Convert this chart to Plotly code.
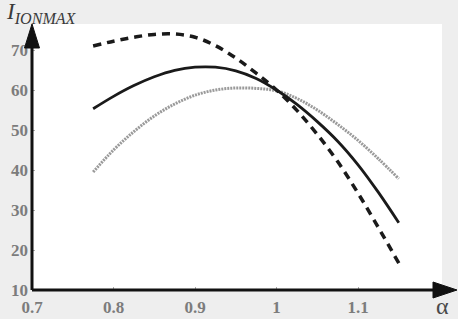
import plotly.graph_objects as go

alpha = [0.775, 0.8, 0.825, 0.85, 0.875, 0.9, 0.925, 0.95, 0.975, 1.0,
         1.025, 1.05, 1.075, 1.1, 1.125, 1.15]
dashed_vals = [71.0, 72.2, 73.2, 73.9, 74.0, 73.2, 71.1, 68.0, 64.2, 60.0,
               54.9, 48.9, 42.1, 34.2, 25.6, 16.7]
solid_vals = [55.3, 58.4, 61.1, 63.3, 64.9, 65.7, 65.7, 64.8, 62.9, 60.0,
              56.4, 52.1, 47.2, 41.3, 34.4, 26.8]
gray_vals = [39.5, 45.0, 49.6, 53.5, 56.5, 58.7, 60.0, 60.5, 60.4, 59.8,
             57.9, 55.0, 51.4, 47.4, 42.8, 37.8]

x_ticks = [0.7, 0.8, 0.9, 1.0, 1.1]
x_ticktext = ["0.7", "0.8", "0.9", "1", "1.1"]
y_ticks = [10, 20, 30, 40, 50, 60, 70]

W, H = 458, 319
L, R, T, B = 32, 16, 24, 29
pw, ph = W - L - R, H - T - B

def px(x):
    return (x - L) / pw

def py(y):
    return (H - B - y) / ph

fig = go.Figure()
fig.add_trace(go.Scatter(x=alpha, y=gray_vals, mode="lines",
                         line=dict(color="#9a9a9a", width=3, dash="2px,1px", shape="spline")))
fig.add_trace(go.Scatter(x=alpha, y=solid_vals, mode="lines",
                         line=dict(color="#1a1a1a", width=2.8, shape="spline")))
fig.add_trace(go.Scatter(x=alpha, y=dashed_vals, mode="lines",
                         line=dict(color="#1a1a1a", width=3.5, dash="8px,6px", shape="spline")))

tickfont = dict(family="Liberation Serif", size=17, color="#7c7c7c", weight="bold")

shapes = [
    dict(type="line", xref="paper", yref="paper", x0=0, x1=0, y0=0, y1=py(45),
         line=dict(color="#111", width=3)),
    dict(type="path", xref="paper", yref="paper",
         path=f"M {px(24.5)},{py(48)} L {px(39.5)},{py(48)} L {px(32)},{py(24)} Z",
         fillcolor="#111", line=dict(color="#111", width=1)),
    dict(type="line", xref="paper", yref="paper", x0=0, x1=px(440), y0=0, y1=0,
         line=dict(color="#111", width=3)),
    dict(type="path", xref="paper", yref="paper",
         path=f"M {px(433)},{py(282)} L {px(433)},{py(298)} L {px(457)},{py(290)} Z",
         fillcolor="#111", line=dict(color="#111", width=1)),
]

annotations = [
    dict(xref="paper", yref="paper", x=px(4), y=py(-3), xanchor="left", yanchor="top",
         text="<i>I<sub>IONMAX</sub></i>", showarrow=False,
         font=dict(family="Liberation Serif", size=23, color="#3a3a3a")),
    dict(xref="paper", yref="paper", x=px(442), y=py(306), xanchor="center", yanchor="middle",
         text="α", showarrow=False,
         font=dict(family="Liberation Serif", size=24, color="#4a4a4a")),
]

fig.update_layout(
    width=W, height=H,
    margin=dict(l=L, r=R, t=T, b=B, autoexpand=False),
    paper_bgcolor="#eeeeee",
    plot_bgcolor="#ffffff",
    showlegend=False,
    shapes=shapes,
    annotations=annotations,
    xaxis=dict(range=[0.7, 1.203], tickvals=x_ticks, ticktext=x_ticktext,
               showgrid=False, zeroline=False, showline=False, automargin=False,
               ticks="inside", ticklen=3, tickcolor="#aaa", tickfont=tickfont,
               ticklabelstandoff=5),
    yaxis=dict(range=[10, 76.5], tickvals=y_ticks,
               showgrid=False, zeroline=False, showline=False, automargin=False,
               ticks="inside", ticklen=3, tickcolor="#aaa", tickfont=tickfont,
               ticklabelstandoff=3),
)

fig.write_html("out.html", config={"displayModeBar": False},
               post_script="document.body.style.margin='0';document.body.style.overflow='hidden';")
